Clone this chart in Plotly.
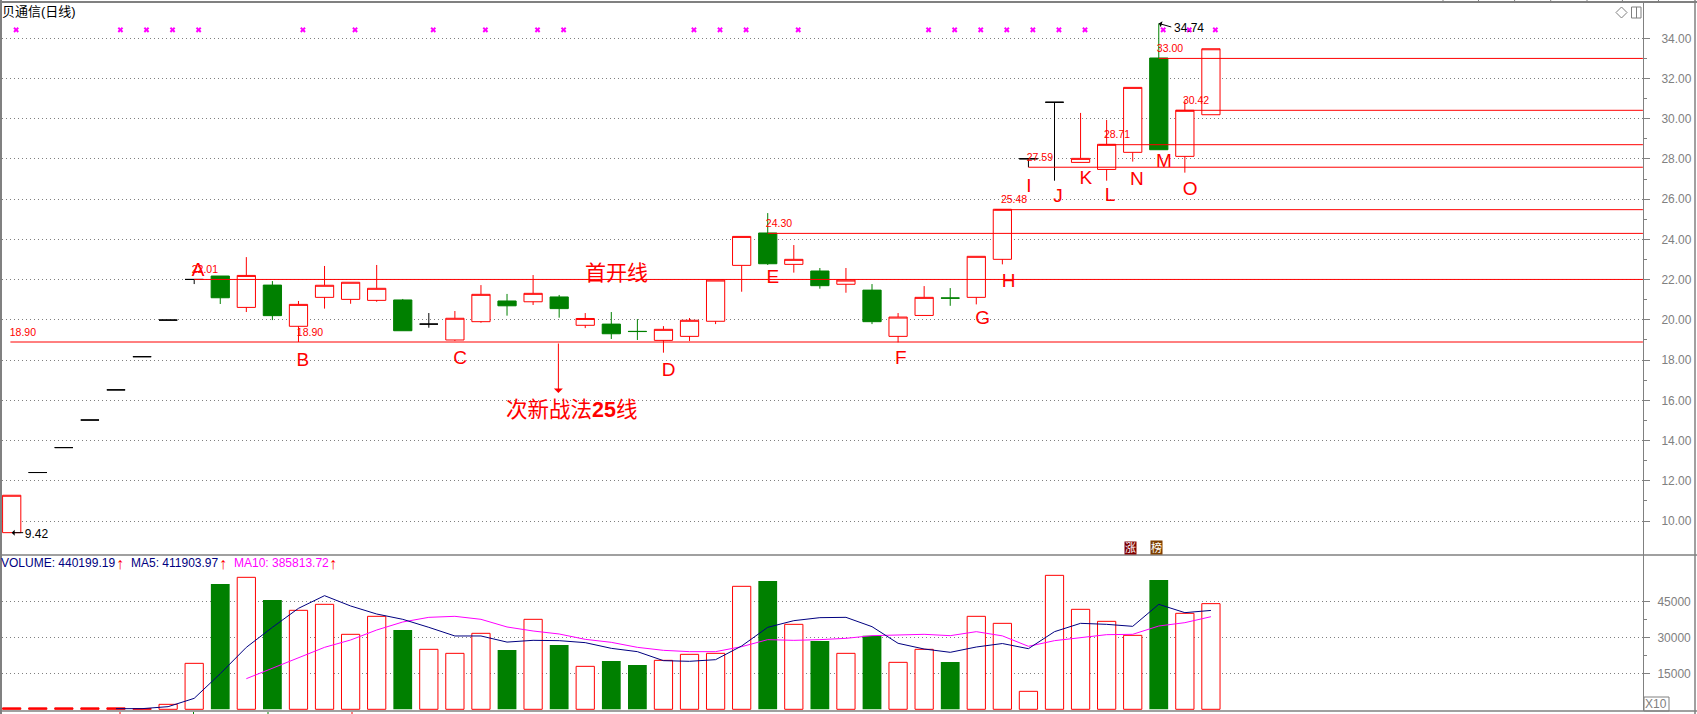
import plotly.graph_objects as go

W, H = 1697, 714
L, R, T, B = 2, 1643, 2, 711
DIV = 555
RED, GREEN, BLACK, NAVY, MAG, GRAY = "#ff0000", "#008000", "#000000", "#000080", "#ff00ff", "#808080"
FONT = "Liberation Sans, Arial, Noto Sans CJK SC"

days = list(range(47))
opens = [9.42, 12.41, 13.65, 15.02, 16.52, 18.17, 19.99, 22.01, 22.18, 20.62, 21.73, 19.68, 21.12, 21.02, 20.97, 20.99, 19.79, 19.00,
         19.91, 20.94, 20.90, 21.14, 19.73, 19.79, 19.43, 18.98, 19.18, 19.93, 22.71, 24.32, 22.76, 22.43, 21.77, 21.48, 19.18, 20.22,
         21.09, 21.12, 23.01, 28.01, 30.82, 27.83, 27.48, 28.33, 33.02, 28.13, 30.20]
closes = [11.28, 12.41, 13.65, 15.02, 16.52, 18.17, 19.99, 22.01, 21.10, 22.21, 20.21, 20.77, 21.72, 21.87, 21.57, 19.46, 19.79, 20.08,
          21.27, 20.70, 21.32, 20.56, 20.07, 19.31, 19.42, 19.53, 19.98, 21.98, 24.15, 22.79, 23.01, 21.70, 21.98, 19.91, 20.14, 21.12,
          21.08, 23.16, 25.50, 28.01, 30.82, 28.03, 28.73, 31.56, 28.46, 30.42, 33.48]
highs = [11.28, 12.41, 13.65, 15.02, 16.52, 18.17, 19.99, 22.01, 22.18, 23.12, 21.93, 20.94, 22.68, 21.87, 22.73, 21.04, 20.34, 20.44,
         21.73, 21.29, 22.23, 21.24, 20.34, 20.39, 20.04, 19.69, 20.09, 21.98, 24.15, 25.31, 23.72, 22.58, 22.58, 21.78, 20.34, 21.68,
         21.58, 23.16, 25.50, 28.01, 30.82, 30.29, 29.94, 31.56, 34.74, 30.93, 33.48]
lows = [9.42, 12.41, 13.65, 15.02, 16.52, 18.17, 19.99, 21.78, 20.79, 20.39, 19.99, 18.90, 20.56, 20.80, 20.90, 19.46, 19.61, 18.95,
        19.86, 20.21, 20.74, 20.11, 19.59, 19.05, 19.00, 18.37, 18.95, 19.79, 21.40, 22.73, 22.35, 21.55, 21.35, 19.79, 18.88, 20.22,
        20.70, 20.77, 22.76, 27.59, 26.92, 27.83, 26.92, 27.87, 28.46, 27.32, 30.20]
green_days = [8, 10, 15, 19, 21, 23, 24, 29, 31, 33, 36, 44]
black_days = [1, 2, 3, 4, 5, 6, 7, 16, 39, 40]
volumes = [600, 600, 600, 600, 600, 300, 2070, 19150, 52200, 54990, 45540, 41240, 43740, 31240, 38740, 33040, 24990, 23320, 31660, 24710,
           37490, 26790, 17900, 20130, 18460, 20400, 22900, 23320, 51240, 53460, 35400, 28460, 23320, 30680, 19570, 24990, 19710, 38740,
           35820, 7490, 55820, 41660, 36650, 30820, 53880, 39990, 44020]
ma5_days = list(range(4, 47))
ma5 = [260, 270, 1100, 4570, 14850, 25820, 34150, 42070, 47350, 43050, 39710, 37490, 34150, 30550, 30550, 28000, 28740, 28600, 27770,
       25400, 24020, 20270, 19990, 20680, 26380, 34150, 36930, 38180, 38320, 34430, 27490, 25120, 23740, 25960, 27400, 25260, 32350,
       35820, 35400, 34570, 43740, 40270, 41190]
ma10_days = list(range(9, 47))
ma10 = [12760, 17070, 21240, 25820, 28880, 33040, 36380, 38320, 38740, 37490, 34300, 32630, 31380, 29150, 27900, 25820, 24570, 24020,
        24020, 26100, 29020, 28730, 29020, 29570, 30680, 30820, 31240, 30680, 32350, 30600, 26240, 28600, 29710, 31100, 31240, 34710,
        36100, 38581]
signal_days = [0, 4, 5, 6, 7, 11, 13, 16, 18, 20, 21, 26, 27, 28, 30, 35, 36, 37, 38, 39, 40, 41, 44, 45, 46]
signal_offset = 0.17
signal_level = 34.42

level_values = [22.01, 18.90, 24.30, 25.48, 27.59, 28.71, 33.00, 30.42]
level_starts = [7.0, -0.05, 29.0, 37.7, 39.0, 41.7, 44.0, 44.65]
level_end = 62.57

letters = list("ABCDEFGHIJKLMNO")
letter_x = [7.15, 11.17, 17.2, 25.2, 29.2, 34.1, 37.24, 38.24, 39.02, 40.13, 41.2, 42.13, 44.2, 43.16, 45.2]
letter_y = [22.42, 17.92, 18.02, 17.47, 22.05, 18.02, 20.01, 21.85, 26.58, 26.08, 27.0, 26.13, 27.82, 26.95, 26.43]

price_text = ["22.01", "18.90", "18.90", "24.30", "27.59", "25.48", "28.71", "33.00", "30.42"]
price_text_x = [7.41, 0.43, 11.44, 29.43, 39.44, 38.45, 42.4, 44.43, 45.43]
price_text_y = [22.48, 19.35, 19.35, 24.76, 28.05, 25.96, 29.19, 33.47, 30.88]

black_text = ["34.74", "9.42"]
black_text_x = [45.16, 0.95]
black_text_y = [34.46, 9.32]

price_ticks = list(range(10, 35, 2))
price_minor = list(range(11, 34, 2))
vol_ticks = [15000, 30000, 45000]
vol_minor = [22500, 37500]

up = [d for d in days if d not in green_days and d not in black_days]


def pick(arr, idx):
    return [arr[i] for i in idx]


def candle(idx, line, fill):
    return go.Candlestick(
        x=idx, open=pick(opens, idx), high=pick(highs, idx), low=pick(lows, idx), close=pick(closes, idx),
        increasing=dict(line=dict(color=line, width=1), fillcolor=fill),
        decreasing=dict(line=dict(color=line, width=1), fillcolor=fill),
        whiskerwidth=0, xaxis="x", yaxis="y", hoverinfo="skip",
    )


fig = go.Figure()
fig.add_trace(candle(up, RED, "#ffffff"))
fig.add_trace(candle(green_days, GREEN, GREEN))
fig.add_trace(candle(black_days, BLACK, BLACK))

for v, s in zip(level_values, level_starts):
    fig.add_trace(go.Scatter(x=[s, level_end], y=[v, v], mode="lines", line=dict(color=RED, width=1), xaxis="x", yaxis="y"))

fig.add_trace(go.Scatter(x=[d + signal_offset for d in signal_days], y=[signal_level] * len(signal_days), mode="markers",
                         marker=dict(symbol="x", size=5, color=MAG, line=dict(width=0)), xaxis="x", yaxis="y"))
fig.add_trace(go.Scatter(x=letter_x, y=letter_y, text=letters, mode="text", textposition="middle center",
                         textfont=dict(family=FONT, size=19, color=RED), xaxis="x", yaxis="y"))
fig.add_trace(go.Scatter(x=price_text_x, y=price_text_y, text=price_text, mode="text", textposition="middle center",
                         textfont=dict(family=FONT, size=10.5, color=RED), xaxis="x", yaxis="y"))
fig.add_trace(go.Scatter(x=black_text_x, y=black_text_y, text=black_text, mode="text", textposition="middle center",
                         textfont=dict(family=FONT, size=12, color=BLACK), xaxis="x", yaxis="y"))

up_v = [d for d in days if d not in green_days]
up_vol = pick(volumes, up_v)
fig.add_trace(go.Bar(x=up_v, y=up_vol, width=0.7, marker=dict(color=[RED if v < 1000 else "#ffffff" for v in up_vol], line=dict(color=RED, width=1)), xaxis="x2", yaxis="y2"))
fig.add_trace(go.Bar(x=green_days, y=pick(volumes, green_days), width=0.72, marker=dict(color=GREEN, line=dict(width=0)), xaxis="x2", yaxis="y2"))
fig.add_trace(go.Scatter(x=ma10_days, y=ma10, mode="lines", line=dict(color=MAG, width=1), xaxis="x2", yaxis="y2"))
fig.add_trace(go.Scatter(x=ma5_days, y=ma5, mode="lines", line=dict(color=NAVY, width=1), xaxis="x2", yaxis="y2"))


def px(x):
    return (x - L) / (R - L)


def py(y):
    return (B - y) / (B - T)


annotations = []


def label(x, y, text, size=12, color=BLACK, xanchor="left", **kw):
    annotations.append(dict(x=px(x), y=py(y), xref="paper", yref="paper", text=text, showarrow=False, xanchor=xanchor, yanchor="middle",
                            font=dict(family=FONT, size=size, color=color), **kw))


label(0, 12, "贝通信(日线)", 13)
label(-1, 563, "VOLUME: 440199.19", 12, NAVY)
label(120, 563, "↑", 16, RED, "center")
label(128.5, 563, "MA5: 411903.97", 12, NAVY)
label(222.5, 563, "↑", 16, RED, "center")
label(231.5, 563, "MA10: 385813.72", 12, MAG)
label(332.5, 563, "↑", 16, RED, "center")
label(1130.5, 547.5, "涨", 11, "#ffffff", "center", bgcolor="#7f0000", borderpad=0)
label(1156.5, 547.5, "榜", 11, "#ffffff", "center", bgcolor="#7f3f00", borderpad=0)
label(1656.5, 703.5, "X10", 12, GRAY, "center")

annotations.append(dict(x=23.18, y=22.43, xref="x", yref="y", text="首开线", showarrow=False,
                        font=dict(family="Noto Sans CJK SC", size=21, color=RED)))
annotations.append(dict(x=21.49, y=15.52, xref="x", yref="y", text="次新战法<b>25</b>线", showarrow=False,
                        font=dict(family=FONT, size=21.5, color=RED)))
annotations.append(dict(x=20.97, y=16.36, ax=20.97, ay=18.90, xref="x", yref="y", axref="x", ayref="y", text="", showarrow=True,
                        arrowhead=1, arrowsize=1.5, arrowwidth=1, arrowcolor=RED))
annotations.append(dict(x=44.0, y=34.74, ax=14, ay=4, xref="x", yref="y", axref="pixel", ayref="pixel", text="", showarrow=True,
                        arrowhead=1, arrowsize=1, arrowwidth=1, arrowcolor=BLACK))
annotations.append(dict(x=0.0, y=9.42, ax=13, ay=0, xref="x", yref="y", axref="pixel", ayref="pixel", text="", showarrow=True,
                        arrowhead=1, arrowsize=1, arrowwidth=1, arrowcolor=BLACK))

shapes = []


def seg(x0, y0, x1, y1, width=1, color=GRAY):
    shapes.append(dict(type="line", xref="paper", yref="paper", x0=px(x0), y0=py(y0), x1=px(x1), y1=py(y1), line=dict(color=color, width=width)))


seg(0, 2, 1697, 2, 2)
seg(1, 0, 1, 714, 2)
seg(1695, 0, 1695, 714, 1.5)
seg(0, DIV, 1697, DIV, 1.5)
seg(0, B, 1697, B, 1.5)
for tx in [1443, 1478.5, 1514.6, 1550.7, 1587, 1622.4, 1658.5]:
    seg(tx, 0, tx, 2, 1)
for tx, c in [(120, RED), (193.5, GREEN), (268, GREEN), (352, RED)]:
    seg(tx, 712, tx, 714, 1, c)
shapes.append(dict(type="path", xref="paper", yref="paper", line=dict(color=GRAY, width=1),
                   path=f"M {px(1616)} {py(12.5)} L {px(1621.5)} {py(7)} L {px(1627)} {py(12.5)} L {px(1621.5)} {py(18)} Z"))
shapes.append(dict(type="rect", xref="paper", yref="paper", x0=px(1631.5), x1=px(1641), y0=py(18), y1=py(7), line=dict(color=GRAY, width=1)))
seg(1636.5, 7, 1636.5, 18)
shapes.append(dict(type="rect", xref="paper", yref="paper", x0=px(1644), x1=px(1669), y0=py(697), y1=py(711), line=dict(color=GRAY, width=1)))

x_range = [(L - 11.7) / 26.07, (R - 11.7) / 26.07]
pane = (B - DIV) / (B - T)

fig.update_layout(
    width=W, height=H, margin=dict(l=L, r=W - R, t=T, b=H - B), paper_bgcolor="#ffffff", plot_bgcolor="#ffffff",
    showlegend=False, boxgap=0.3, boxgroupgap=0, bargap=0.3, barmode="overlay", hovermode=False,
    font=dict(family=FONT), annotations=annotations, shapes=shapes,
    xaxis=dict(domain=[0, 1], range=x_range, visible=False, rangeslider=dict(visible=False), anchor="y"),
    xaxis2=dict(domain=[0, 1], range=x_range, visible=False, anchor="y2"),
    yaxis=dict(
        domain=[pane, 1], range=[10 - (DIV - 521) / 20.11, 34 + (38.3 - T) / 20.11], side="right", anchor="x",
        tickmode="array", tickvals=price_ticks, ticktext=[f"{v:.2f}" for v in price_ticks],
        ticks="outside", ticklen=6, tickcolor=GRAY, tickwidth=1, showline=True, linecolor=GRAY, linewidth=1,
        tickfont=dict(family=FONT, size=12, color=GRAY), ticklabelstandoff=9,
        showgrid=True, gridcolor=GRAY, griddash="1px,3px", gridwidth=1, zeroline=False,
        minor=dict(tickmode="array", tickvals=price_minor, ticks="outside", ticklen=3, tickcolor=GRAY, showgrid=False),
    ),
    yaxis2=dict(
        domain=[0, pane], range=[-(B - 709.3) / 36 * 15000, (709.3 - DIV) / 36 * 15000], side="right", anchor="x2",
        tickmode="array", tickvals=vol_ticks, ticktext=[str(v) for v in vol_ticks],
        ticks="outside", ticklen=6, tickcolor=GRAY, tickwidth=1, showline=True, linecolor=GRAY, linewidth=1,
        tickfont=dict(family=FONT, size=12, color=GRAY), ticklabelstandoff=5,
        showgrid=True, gridcolor=GRAY, griddash="1px,3px", gridwidth=1, zeroline=False,
        minor=dict(tickmode="array", tickvals=vol_minor, ticks="outside", ticklen=3, tickcolor=GRAY, showgrid=False),
    ),
)

fig.write_html("out.html", config=dict(displayModeBar=False), post_script="document.body.style.margin='0';document.body.style.overflow='hidden';")
